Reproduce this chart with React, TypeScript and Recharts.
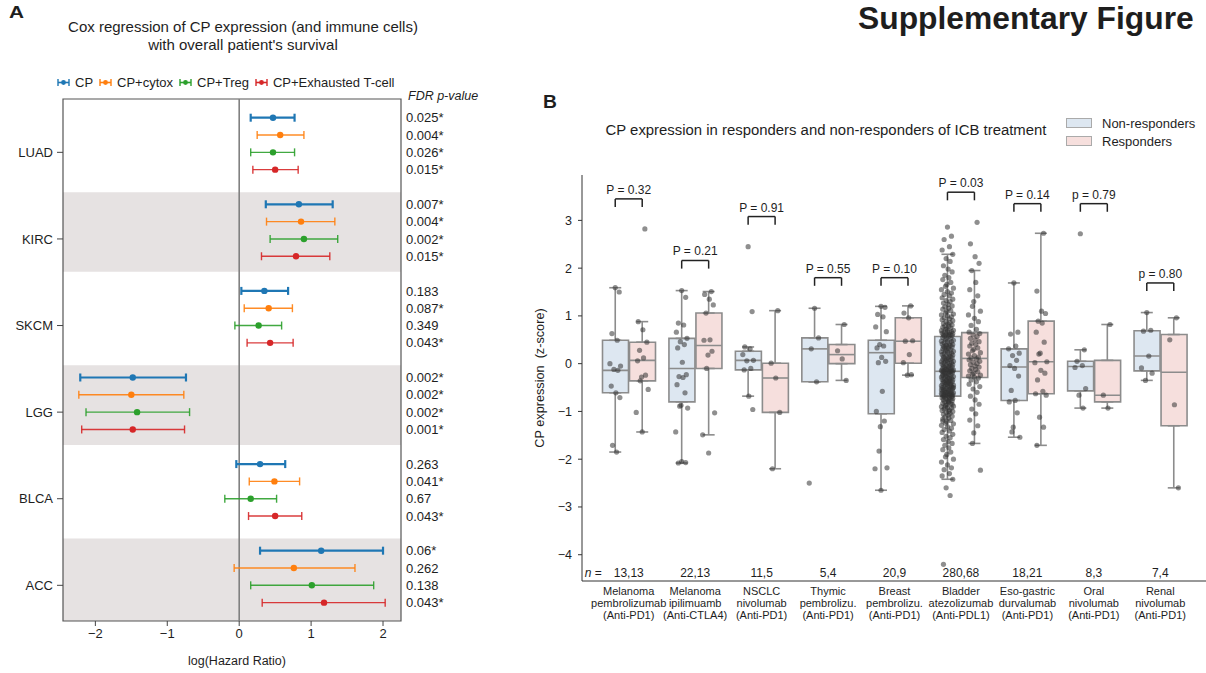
import React from 'react';
import {
  Bar,
  ComposedChart,
  ErrorBar,
  ReferenceArea,
  ReferenceLine,
  Scatter,
  ScatterChart,
  XAxis,
  YAxis,
} from 'recharts';

const FONT = '"Liberation Sans", Arial, Helvetica, sans-serif';
const INK = '#1e1e1e';

// ---------- panel A : Cox regression ----------
const CANCERS = ['LUAD', 'KIRC', 'SKCM', 'LGG', 'BLCA', 'ACC'];
const MODELS = ['CP', 'CP+cytox', 'CP+Treg', 'CP+Exhausted T-cell'];
const MODEL_COLOURS = ['#1f77b4', '#ff7f0e', '#2ca02c', '#d62728'];

const CP_HR = [0.47, 0.83, 0.35, -1.48, 0.29, 1.14];
const CP_LO = [0.16, 0.37, 0.03, -2.21, -0.04, 0.29];
const CP_HI = [0.77, 1.3, 0.68, -0.74, 0.64, 2.0];
const CYTOX_HR = [0.57, 0.86, 0.41, -1.5, 0.49, 0.76];
const CYTOX_LO = [0.25, 0.38, 0.07, -2.23, 0.14, -0.07];
const CYTOX_HI = [0.9, 1.33, 0.74, -0.77, 0.84, 1.61];
const TREG_HR = [0.47, 0.9, 0.27, -1.42, 0.16, 1.01];
const TREG_LO = [0.16, 0.43, -0.06, -2.13, -0.2, 0.16];
const TREG_HI = [0.77, 1.37, 0.59, -0.69, 0.52, 1.87];
const EXH_HR = [0.5, 0.79, 0.43, -1.48, 0.5, 1.18];
const EXH_LO = [0.19, 0.31, 0.11, -2.19, 0.13, 0.32];
const EXH_HI = [0.82, 1.26, 0.75, -0.76, 0.87, 2.03];

const CP_FDR = ['0.025*', '0.007*', '0.183', '0.002*', '0.263', '0.06*'];
const CYTOX_FDR = ['0.004*', '0.004*', '0.087*', '0.002*', '0.041*', '0.262'];
const TREG_FDR = ['0.026*', '0.002*', '0.349', '0.002*', '0.67', '0.138'];
const EXH_FDR = ['0.015*', '0.015*', '0.043*', '0.001*', '0.043*', '0.043*'];

const HR = [CP_HR, CYTOX_HR, TREG_HR, EXH_HR];
const HR_LO = [CP_LO, CYTOX_LO, TREG_LO, EXH_LO];
const HR_HI = [CP_HI, CYTOX_HI, TREG_HI, EXH_HI];
const FDR = [CP_FDR, CYTOX_FDR, TREG_FDR, EXH_FDR];

// ---------- panel B : ICB cohorts ----------
const STUDY = ['Melanoma', 'Melanoma', 'NSCLC', 'Thymic', 'Breast', 'Bladder', 'Eso-gastric', 'Oral', 'Renal'];
const DRUG = ['pembrolizumab', 'ipilimuamb', 'nivolumab', 'pembrolizu.', 'pembrolizu.', 'atezolizumab', 'durvalumab', 'nivolumab', 'nivolumab'];
const TARGET = ['(Anti-PD1)', '(Anti-CTLA4)', '(Anti-PD1)', '(Anti-PD1)', '(Anti-PD1)', '(Anti-PDL1)', '(Anti-PD1)', '(Anti-PD1)', '(Anti-PD1)'];
const N_PAT = ['13,13', '22,13', '11,5', '5,4', '20,9', '280,68', '18,21', '8,3', '7,4'];
const P_TEXT = ['P = 0.32', 'P = 0.21', 'P = 0.91', 'P = 0.55', 'P = 0.10', 'P = 0.03', 'P = 0.14', 'p = 0.79', 'p = 0.80'];
const P_Y = [3.45, 2.16, 3.08, 1.8, 1.8, 3.59, 3.35, 3.35, 1.69];

const NR_Q1 = [-0.61, -0.8, -0.13, -0.38, -1.05, -0.68, -0.77, -0.57, -0.15];
const NR_MED = [-0.14, -0.1, 0.07, 0.31, 0.23, -0.16, -0.07, -0.06, 0.16];
const NR_Q3 = [0.49, 0.53, 0.26, 0.54, 0.49, 0.57, 0.31, 0.05, 0.69];
const NR_LO = [-1.85, -2.08, -0.68, -0.38, -2.65, -2.42, -1.54, -0.93, -0.35];
const NR_HI = [1.59, 1.53, 0.35, 1.16, 1.2, 2.29, 1.69, 0.29, 1.07];
const R_Q1 = [-0.36, -0.1, -1.02, 0.0, 0.01, -0.29, -0.63, -0.8, -1.3];
const R_MED = [0.07, 0.38, -0.3, 0.19, 0.47, 0.11, 0.04, -0.66, -0.18];
const R_Q3 = [0.45, 1.06, 0.01, 0.4, 0.96, 0.65, 0.89, 0.07, 0.61];
const R_LO = [-1.43, -1.49, -2.2, -0.35, -0.24, -1.67, -1.71, -0.93, -2.6];
const R_HI = [0.88, 1.51, 1.11, 0.82, 1.21, 1.95, 2.73, 0.82, 0.96];

const MEL_PEMBRO_NR = [1.59, 1.5, 0.63, 0.49, 0.0, -0.05, -0.12, -0.14, -0.47, -0.61, -0.71, -1.71, -1.85];
const MEL_PEMBRO_R = [2.82, 0.88, 0.71, 0.45, 0.28, 0.12, 0.06, -0.24, -0.28, -0.36, -0.54, -1.02, -1.43];
const MEL_IPI_NR = [1.53, 1.39, 0.85, 0.81, 0.66, 0.53, 0.46, 0.4, 0.33, 0.03, -0.23, -0.27, -0.29, -0.44, -0.61, -0.87, -0.89, -0.93, -1.43, -2.05, -2.07, -2.08];
const MEL_IPI_R = [1.51, 1.45, 1.35, 1.23, 1.06, 0.5, 0.49, 0.26, 0.18, -0.1, -1.03, -1.49, -1.87];
const NSCLC_NR = [2.45, 1.09, 0.35, 0.31, 0.19, 0.07, 0.06, -0.1, -0.13, -0.68, -0.96];
const NSCLC_R = [1.11, 0.01, -0.3, -1.02, -2.2];
const THYMIC_NR = [1.16, 0.54, 0.31, -0.38, -2.5];
const THYMIC_R = [0.82, 0.27, 0.1, -0.35];
const BREAST_NR = [1.2, 1.18, 1.03, 0.98, 0.77, 0.67, 0.4, 0.37, 0.33, 0.13, 0.05, 0.02, -0.58, -1.0, -1.2, -1.32, -1.83, -2.18, -2.2, -2.65];
const BREAST_R = [1.21, 1.06, 0.96, 0.48, 0.47, 0.19, 0.02, -0.23, -0.24];
const BLADDER_NR = [
  2.86, 2.67, 2.6, 2.45, 2.38, 2.29, 2.2, 2.14, 2.05, 1.98, 1.92, 1.85, 1.8, 1.76, 1.7, 1.66, 1.62, 1.58,
  1.55, 1.51, 1.48, 1.45, 1.42, 1.38, 1.35, 1.32, 1.3, 1.27, 1.24, 1.21, 1.19, 1.16, 1.14, 1.11, 1.09, 1.06,
  1.04, 1.02, 1.0, 0.98, 0.96, 0.94, 0.92, 0.9, 0.88, 0.86, 0.84, 0.83, 0.81, 0.79, 0.78, 0.76, 0.75, 0.73,
  0.72, 0.7, 0.69, 0.68, 0.67, 0.66, 0.65, 0.64, 0.63, 0.62, 0.61, 0.6, 0.6, 0.59, 0.58, 0.57,
  0.55, 0.53, 0.52, 0.5, 0.49, 0.47, 0.46, 0.46, 0.44, 0.43, 0.41, 0.4, 0.39, 0.38, 0.36, 0.35, 0.35, 0.33,
  0.32, 0.31, 0.29, 0.28, 0.27, 0.26, 0.25, 0.24, 0.22, 0.21, 0.2, 0.19, 0.18, 0.17, 0.15, 0.14, 0.13, 0.12,
  0.11, 0.1, 0.09, 0.08, 0.07, 0.06, 0.05, 0.04, 0.03, 0.02, 0.01, 0.0, -0.01, -0.02, -0.03, -0.04, -0.05,
  -0.06, -0.07, -0.08, -0.09, -0.1, -0.11, -0.12, -0.12, -0.13, -0.14, -0.14, -0.15, -0.15, -0.16, -0.16, -0.16, 0.37,
  -0.17, -0.18, -0.19, -0.2, -0.21, -0.22, -0.23, -0.24, -0.25, -0.26, -0.27, -0.28, -0.29, -0.3, -0.31, -0.32,
  -0.33, -0.34, -0.35, -0.36, -0.37, -0.38, -0.38, -0.39, -0.4, -0.41, -0.42, -0.43, -0.44, -0.45, -0.46, -0.47,
  -0.48, -0.48, -0.49, -0.5, -0.51, -0.52, -0.53, -0.54, -0.55, -0.55, -0.56, -0.57, -0.58, -0.59, -0.6, -0.6,
  -0.61, -0.62, -0.62, -0.63, -0.64, -0.64, -0.65, -0.65, -0.66, -0.66, -0.67, -0.67, -0.68, -0.68, -0.3, -0.25,
  -0.45, -0.35, -0.2, -0.5, -0.55, -0.4,
  -0.69, -0.7, -0.71, -0.72, -0.73, -0.74, -0.75, -0.76, -0.77, -0.78, -0.8, -0.81, -0.83, -0.84, -0.86, -0.87,
  -0.89, -0.9, -0.92, -0.93, -0.95, -0.97, -0.98, -1.0, -1.02, -1.04, -1.06, -1.08, -1.1, -1.12, -1.14, -1.16,
  -1.19, -1.21, -1.24, -1.26, -1.29, -1.32, -1.35, -1.38, -1.41, -1.44, -1.48, -1.52, -1.55, -1.59, -1.63, -1.67,
  -1.71, -1.76, -1.8, -1.85, -1.9, -1.95, -2.0, -2.06, -2.12, -2.18, -2.22, -2.3, -2.35, -2.42, -2.6, -2.76,
  -4.2, -0.79, -0.85, -0.91, -1.0, -1.2,
];
const BLADDER_R = [
  2.96, 2.51, 2.24, 2.1, 1.95, 1.7, 1.55, 1.42, 1.3, 1.2, 1.1, 1.02, 0.95, 0.88, 0.8, 0.72, 0.66,
  0.63, 0.6, 0.57, 0.53, 0.5, 0.46, 0.43, 0.4, 0.37, 0.33, 0.3, 0.27, 0.23, 0.2, 0.17, 0.14, 0.12,
  0.1, 0.08, 0.05, 0.03, 0.0, -0.02, -0.05, -0.07, -0.1, -0.12, -0.15, -0.17, -0.2, -0.22, -0.24, -0.26, -0.28,
  -0.3, -0.34, -0.38, -0.43, -0.48, -0.53, -0.6, -0.68, -0.76, -0.85, -0.95, -1.05, -1.18, -1.3, -1.45, -1.67, -2.23,
];
const ESO_NR = [1.69, 0.66, 0.62, 0.37, 0.31, 0.22, 0.17, 0.07, -0.04, -0.1, -0.26, -0.56, -0.77, -0.8, -1.03, -1.33, -1.43, -1.54];
const ESO_R = [2.73, 1.52, 1.1, 1.05, 0.89, 0.85, 0.66, 0.45, 0.22, 0.2, 0.04, 0.02, -0.14, -0.2, -0.34, -0.58, -0.63, -0.66, -1.12, -1.33, -1.71];
const ORAL_NR = [2.72, 0.29, 0.05, -0.04, -0.08, -0.52, -0.66, -0.93];
const ORAL_R = [0.82, -0.66, -0.93];
const RENAL_NR = [1.07, 0.7, 0.68, 0.16, -0.09, -0.2, -0.35];
const RENAL_R = [0.96, 0.5, -0.86, -2.6];

const NR_POINTS = [MEL_PEMBRO_NR, MEL_IPI_NR, NSCLC_NR, THYMIC_NR, BREAST_NR, BLADDER_NR, ESO_NR, ORAL_NR, RENAL_NR];
const R_POINTS = [MEL_PEMBRO_R, MEL_IPI_R, NSCLC_R, THYMIC_R, BREAST_R, BLADDER_R, ESO_R, ORAL_R, RENAL_R];

// strip-plot jitter, in category units
const JITTER = [0.0, 0.06, -0.05, 0.03, -0.08, 0.08, -0.02, 0.04, -0.06, 0.01, 0.07, -0.04, 0.02, -0.07, 0.05, -0.01, -0.03, 0.09, -0.09];
const OFF = 0.203;

const minus = (v: number) => (v < 0 ? '\u2212' + Math.abs(v) : String(v));

// A: one row per model inside each cancer block of 5 rows
const Y_MIN = -1.08;
const Y_MAX = 29.06;
const coxSeries = MODELS.map((name, s) => ({
  name,
  colour: MODEL_COLOURS[s],
  data: CANCERS.map((_, g) => ({
    hr: HR[s][g],
    row: 5 * g + s,
    err: [HR[s][g] - HR_LO[s][g], HR_HI[s][g] - HR[s][g]],
  })),
}));
const fdrRows = CANCERS.flatMap((_, g) => MODELS.map((__, s) => 5 * g + s));
const fdrLabel = (v: number) => {
  const g = Math.floor(v / 5);
  const s = v - 5 * g;
  return FDR[s] && FDR[s][g] ? FDR[s][g] : '';
};

// B
const boxRows = STUDY.map((_, i) => ({
  name: String(i),
  nr: [NR_Q1[i], NR_Q3[i]],
  r: [R_Q1[i], R_Q3[i]],
}));
const whiskerData = STUDY.flatMap((_, i) => [
  { x: i - OFF, y: NR_Q3[i], err: [0, NR_HI[i] - NR_Q3[i]] },
  { x: i - OFF, y: NR_Q1[i], err: [NR_Q1[i] - NR_LO[i], 0] },
  { x: i + OFF, y: R_Q3[i], err: [0, R_HI[i] - R_Q3[i]] },
  { x: i + OFF, y: R_Q1[i], err: [R_Q1[i] - R_LO[i], 0] },
]);
const medianData = STUDY.flatMap((_, i) => [
  { x: i - OFF, y: NR_MED[i] },
  { x: i + OFF, y: R_MED[i] },
]);
const pointData = STUDY.flatMap((_, i) => [
  ...NR_POINTS[i].map((v, k) => ({ x: i - OFF + JITTER[k % JITTER.length], y: v })),
  ...R_POINTS[i].map((v, k) => ({ x: i + OFF + JITTER[(k + 7) % JITTER.length], y: v })),
]);

const BOX_EDGE = '#8c8c8c';

const StudyTick = (props: any) => {
  const { x, y, payload } = props;
  const i = payload.value as number;
  return (
    <g fill={INK} fontFamily={FONT}>
      {i === 0 && (
        <text x={x - 44} y={y - 4} fontSize={12}>
          <tspan fontStyle="italic">n</tspan> =
        </text>
      )}
      <text x={x} y={y - 4} textAnchor="middle" fontSize={12}>{N_PAT[i]}</text>
      <text x={x} y={y + 14} textAnchor="middle" fontSize={11}>{STUDY[i]}</text>
      <text x={x} y={y + 26} textAnchor="middle" fontSize={11}>{DRUG[i]}</text>
      <text x={x} y={y + 38} textAnchor="middle" fontSize={11}>{TARGET[i]}</text>
    </g>
  );
};

const abs = (left: number, top: number, extra: React.CSSProperties = {}): React.CSSProperties => ({
  position: 'absolute',
  left,
  top,
  lineHeight: 1,
  whiteSpace: 'nowrap',
  ...extra,
});

export default function App() {
  return (
    <div
      style={{
        position: 'absolute',
        left: 0,
        top: 0,
        width: 1206,
        height: 673,
        overflow: 'hidden',
        background: '#fff',
        fontFamily: FONT,
        color: INK,
      }}
    >
      {/* panel A */}
      <div style={{ position: 'absolute', left: 0, top: 0 }}>
        <ScatterChart width={480} height={673} margin={{ top: 99, right: 0, bottom: 0, left: 0 }}>
          <XAxis
            dataKey="hr"
            type="number"
            domain={[-2.45, 2.25]}
            allowDataOverflow
            ticks={[-2, -1, 0, 1, 2]}
            tickFormatter={minus}
            axisLine={false}
            tickSize={5}
            tickMargin={3}
            height={52}
            stroke="#444"
            tick={{ fontSize: 13, fill: INK }}
          />
          <YAxis
            yAxisId="left"
            dataKey="row"
            type="number"
            domain={[Y_MIN, Y_MAX]}
            reversed
            allowDataOverflow
            ticks={[2, 7, 12, 17, 22, 27]}
            interval={0}
            tickFormatter={(v: number) => CANCERS[Math.round((v - 2) / 5)]}
            width={63}
            axisLine={false}
            tickSize={6}
            tickMargin={4}
            stroke="#444"
            tick={{ fontSize: 13, fill: INK }}
          />
          <YAxis
            yAxisId="right"
            orientation="right"
            dataKey="row"
            type="number"
            domain={[Y_MIN, Y_MAX]}
            reversed
            allowDataOverflow
            ticks={fdrRows}
            interval={0}
            tickFormatter={fdrLabel}
            width={79}
            axisLine={false}
            tickLine={false}
            tickSize={0}
            tickMargin={5}
            tick={{ fontSize: 13, fill: INK }}
          />
          {CANCERS.map((c, g) =>
            g % 2 === 1 ? (
              <ReferenceArea
                key={c}
                yAxisId="left"
                y1={5 * g - 0.7}
                y2={g === CANCERS.length - 1 ? Y_MAX : 5 * g + 3.9}
                fill="#e6e2e2"
                fillOpacity={1}
                stroke="none"
                ifOverflow="hidden"
              />
            ) : null,
          )}
          <ReferenceLine yAxisId="left" x={0} stroke="#808080" strokeWidth={1.6} />
          <ReferenceArea yAxisId="left" y1={Y_MIN} y2={Y_MAX} fill="none" stroke="#555" strokeWidth={1.2} />
          {coxSeries.map((s, idx) => (
            <Scatter
              key={s.name}
              name={s.name}
              yAxisId="left"
              data={s.data}
              fill={s.colour}
              isAnimationActive={false}
              shape={(p: any) => <circle cx={p.cx} cy={p.cy} r={3.2} fill={s.colour} />}
            >
              <ErrorBar
                dataKey="err"
                direction="x"
                width={4}
                stroke={s.colour}
                strokeWidth={idx === 0 ? 2.2 : 1.4}
                strokeOpacity={idx === 0 ? 1 : 0.9}
                isAnimationActive={false}
              />
            </Scatter>
          ))}
        </ScatterChart>
      </div>

      <div style={abs(9, 5, { fontSize: 16, fontWeight: 700, transform: 'scaleX(1.3)', transformOrigin: 'left' })}>A</div>
      <div style={{ position: 'absolute', left: 43, top: 18, width: 400, textAlign: 'center', fontSize: 15, lineHeight: '17.5px' }}>
        Cox regression of CP expression (and immune cells)
        <br />
        with overall patient's survival
      </div>
      <div style={{ position: 'absolute', left: 57, top: 76, display: 'flex', alignItems: 'center', fontSize: 13, lineHeight: 1 }}>
        {MODELS.map((m, s) => (
          <span key={m} style={{ display: 'flex', alignItems: 'center', marginRight: 6 }}>
            <svg width={13} height={9}>
              <line x1={1} y1={4.5} x2={12} y2={4.5} stroke={MODEL_COLOURS[s]} strokeWidth={1.6} />
              <line x1={1} y1={1} x2={1} y2={8} stroke={MODEL_COLOURS[s]} strokeWidth={1.4} />
              <line x1={12} y1={1} x2={12} y2={8} stroke={MODEL_COLOURS[s]} strokeWidth={1.4} />
              <circle cx={6.5} cy={4.5} r={2.4} fill={MODEL_COLOURS[s]} />
            </svg>
            <span style={{ marginLeft: 5 }}>{m}</span>
          </span>
        ))}
      </div>
      <div style={abs(408, 90, { fontSize: 12.5, fontStyle: 'italic' })}>FDR p-value</div>
      <div style={{ position: 'absolute', left: 132, top: 655, width: 210, textAlign: 'center', fontSize: 12.5, lineHeight: 1 }}>
        log(Hazard Ratio)
      </div>

      {/* panel B */}
      <div style={{ position: 'absolute', left: 470, top: 0 }}>
        <ComposedChart width={740} height={673} data={boxRows} margin={{ top: 175, right: 3, bottom: 0, left: 0 }} barGap={1}>
          <XAxis xAxisId="cat" dataKey="name" type="category" hide height={0} padding={{ left: 13.5, right: 13.5 }} />
          <XAxis
            xAxisId="num"
            dataKey="x"
            type="number"
            domain={[-0.5, 8.5]}
            allowDataOverflow
            ticks={[0, 1, 2, 3, 4, 5, 6, 7, 8]}
            interval={0}
            padding={{ left: 13.5, right: 13.5 }}
            height={92}
            tickLine={false}
            tickSize={0}
            tickMargin={0}
            stroke="#333"
            tick={<StudyTick />}
          />
          <YAxis
            dataKey="y"
            type="number"
            domain={[-4.55, 3.95]}
            allowDataOverflow
            ticks={[-4, -3, -2, -1, 0, 1, 2, 3]}
            interval={0}
            tickFormatter={minus}
            width={112}
            tickSize={4}
            tickMargin={6}
            stroke="#333"
            tick={{ fontSize: 12.5, fill: INK }}
          />
          <Bar xAxisId="cat" dataKey="nr" barSize={26} fill="#dde7f1" stroke={BOX_EDGE} strokeWidth={1.6} isAnimationActive={false} />
          <Bar xAxisId="cat" dataKey="r" barSize={26} fill="#f6dfdd" stroke={BOX_EDGE} strokeWidth={1.6} isAnimationActive={false} />
          <Scatter xAxisId="num" data={whiskerData} isAnimationActive={false} shape={() => <g />}>
            <ErrorBar dataKey="err" direction="y" width={6} stroke={BOX_EDGE} strokeWidth={1.6} isAnimationActive={false} />
          </Scatter>
          <Scatter
            xAxisId="num"
            data={medianData}
            isAnimationActive={false}
            shape={(p: any) => <line x1={p.cx - 13} x2={p.cx + 13} y1={p.cy} y2={p.cy} stroke={BOX_EDGE} strokeWidth={1.6} />}
          />
          <Scatter
            xAxisId="num"
            data={pointData}
            isAnimationActive={false}
            shape={(p: any) => <circle cx={p.cx} cy={p.cy} r={2.6} fill="#333" fillOpacity={0.55} />}
          />
          {STUDY.map((_, i) => {
            const top = P_Y[i];
            const leg = 0.17;
            return (
              <React.Fragment key={i}>
                <ReferenceLine xAxisId="num" segment={[{ x: i - OFF, y: top - leg }, { x: i - OFF, y: top }]} stroke="#222" strokeWidth={1.5} />
                <ReferenceLine xAxisId="num" segment={[{ x: i + OFF, y: top - leg }, { x: i + OFF, y: top }]} stroke="#222" strokeWidth={1.5} />
                <ReferenceLine
                  xAxisId="num"
                  segment={[{ x: i - OFF, y: top }, { x: i + OFF, y: top }]}
                  stroke="#222"
                  strokeWidth={1.5}
                  label={{ value: P_TEXT[i], position: 'top', fontSize: 12, fill: INK, offset: 5 }}
                />
              </React.Fragment>
            );
          })}
        </ComposedChart>
      </div>

      <div style={abs(543, 94, { fontSize: 17.5, fontWeight: 700, transform: 'scaleX(1.1)', transformOrigin: 'left' })}>B</div>
      <div style={{ position: 'absolute', left: 526, top: 123, width: 600, textAlign: 'center', fontSize: 14.9, lineHeight: 1 }}>
        CP expression in responders and non-responders of ICB treatment
      </div>
      <div
        style={{
          position: 'absolute',
          left: 540 - 120,
          top: 378 - 7,
          width: 240,
          textAlign: 'center',
          fontSize: 12.7,
          lineHeight: '14px',
          transform: 'rotate(-90deg)',
          whiteSpace: 'pre',
        }}
      >
        {'CP expression  (z-score)'}
      </div>
      <div style={{ position: 'absolute', left: 1066, top: 114, fontSize: 13, lineHeight: 1 }}>
        {[
          { label: 'Non-responders', fill: '#dde7f1' },
          { label: 'Responders', fill: '#f6dfdd' },
        ].map((e) => (
          <div key={e.label} style={{ display: 'flex', alignItems: 'center', height: 18 }}>
            <span style={{ width: 24, height: 8, background: e.fill, border: '1px solid #aaa', display: 'inline-block' }} />
            <span style={{ marginLeft: 10 }}>{e.label}</span>
          </div>
        ))}
      </div>

      <div style={abs(858, 0, { fontSize: 31.8, fontWeight: 700, lineHeight: 'normal' })}>Supplementary Figure</div>
    </div>
  );
}
